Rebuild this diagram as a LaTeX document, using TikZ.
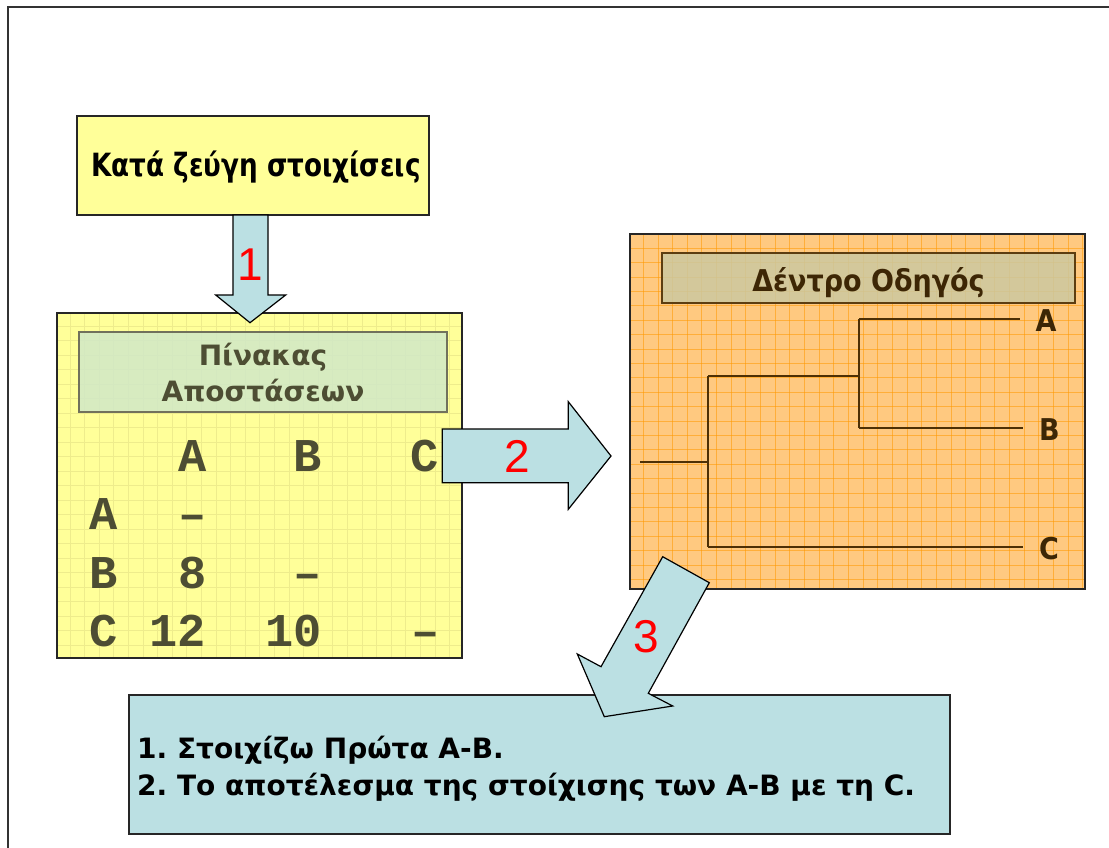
\documentclass[tikz,border=0pt]{standalone}
\usepackage{fontspec}
\setmainfont{DejaVu Sans}
\newfontfamily\uifont{DejaVu Sans}
\newfontfamily\headfont[FakeStretch=0.9]{DejaVu Sans}
\newfontfamily\narrowfont[FakeStretch=0.82]{DejaVu Sans}
\newfontfamily\monofont{Liberation Mono}
\newfontfamily\numfont{Liberation Sans}
\definecolor{paleyellow}{RGB}{255,255,153}
\definecolor{yellowgrid}{RGB}{238,236,140}
\definecolor{paleorange}{RGB}{255,201,128}
\definecolor{orangegrid}{RGB}{255,153,0}
\definecolor{paleblue}{RGB}{187,224,227}
\definecolor{greenhead}{RGB}{208,232,200}
\definecolor{khakihead}{RGB}{204,200,160}
\definecolor{olivetext}{RGB}{77,77,51}
\definecolor{browntext}{RGB}{61,38,5}
\definecolor{brownline}{RGB}{77,48,5}
\definecolor{brownedge}{RGB}{92,61,16}
\tikzset{
  panel/.style={draw=black!85, line width=1.3pt, inner sep=0pt, outer sep=0pt},
  blockarrow/.style={draw=black, line width=1.2pt, fill=paleblue, line join=miter},
  steplabel/.style={text=red, font=\numfont\fontsize{46}{46}\selectfont, inner sep=0pt},
  headbox/.style={line width=1.3pt, inner sep=0pt, outer sep=0pt},
  celltext/.style={text=olivetext, anchor=base, inner sep=0pt,
    font=\monofont\bfseries\fontsize{47}{47}\selectfont},
  leaflabel/.style={text=browntext, anchor=base, inner sep=0pt,
    font=\headfont\bfseries\fontsize{30}{30}\selectfont},
  treeline/.style={draw=brownline, line width=1.7pt}
}
\begin{document}
\begin{tikzpicture}[x=1pt,y=-1pt]
\useasboundingbox (0,0) rectangle (1109,848);
\fill[white] (0,0) rectangle (1109,848);
% page frame
\draw[line width=2pt, black!80] (8,848) -- (8,7) -- (1109,7);

% ---------- pairwise alignment box ----------
\node[panel, fill=paleyellow, minimum width=352pt, minimum height=99pt] (pair) at (253,165.5) {};
\node[anchor=base, inner sep=0pt, font=\narrowfont\bfseries\fontsize{32}{32}\selectfont] (pairtext) at (256,177) {Κατά ζεύγη στοιχίσεις};

% ---------- distance matrix ----------
\node[panel, fill=paleyellow, minimum width=405pt, minimum height=345pt] (matrix) at (259.5,485.5) {};
\begin{scope}
  \clip (57,313) rectangle (462,658);
  \foreach \i in {0,...,28} \draw[yellowgrid, line width=0.8pt] (70+\i*14.6,313) -- ++(0,345);
  \foreach \i in {0,...,24} \draw[yellowgrid, line width=0.8pt] (57,326+\i*14.5) -- ++(405,0);
\end{scope}
\draw[black!85, line width=1.3pt] (matrix.north west) rectangle (matrix.south east);
\node[headbox, draw=olivetext!80, fill=greenhead, fill opacity=0.85, text opacity=1,
  minimum width=368pt, minimum height=80pt] (mhead) at (263,372) {};
\node[anchor=base, inner sep=0pt, text=olivetext, font=\uifont\bfseries\fontsize{28}{28}\selectfont] (mhead1) at (263,365) {Πίνακας};
\node[anchor=base, inner sep=0pt, text=olivetext, font=\uifont\bfseries\fontsize{28}{28}\selectfont] (mhead2) at (263,401.5) {Αποστάσεων};
% column heads
\node[celltext] (colA) at (193,471.5) {A};
\node[celltext] (colB) at (308,471.5) {B};
\node[celltext] (colC) at (425,471.5) {C};
% row heads
\node[celltext] (rowA) at (104,529) {A};
\node[celltext] (rowB) at (104,588) {B};
\node[celltext] (rowC) at (104,646.5) {C};
% entries
\node[celltext] (aa) at (193,529) {–};
\node[celltext] (ba) at (193,588) {8};
\node[celltext] (bb) at (308,588) {–};
\node[celltext] (ca) at (177.5,646.5) {12};
\node[celltext] (cb) at (294,646.5) {10};
\node[celltext] (cc) at (426,646.5) {–};

% ---------- guide tree ----------
\node[panel, fill=paleorange, minimum width=455pt, minimum height=355pt] (tree) at (857.5,411.5) {};
\begin{scope}
  \clip (630,234) rectangle (1085,589);
  \foreach \i in {0,...,31} \draw[orangegrid, opacity=0.55, line width=0.9pt] (643.3+\i*14.65,234) -- ++(0,355);
  \foreach \i in {0,...,24} \draw[orangegrid, opacity=0.55, line width=0.9pt] (630,248.3+\i*14.4) -- ++(455,0);
\end{scope}
\draw[black!85, line width=1.3pt] (tree.north west) rectangle (tree.south east);
\node[headbox, draw=brownedge, fill=khakihead, fill opacity=0.85, text opacity=1,
  minimum width=413pt, minimum height=50pt] (thead) at (868.5,278) {};
\node[anchor=base, inner sep=0pt, text=browntext, font=\headfont\bfseries\fontsize{30}{30}\selectfont] (theadtext) at (868.5,291.5) {Δέντρο Οδηγός};
% tree topology
\coordinate (root) at (640,462);
\coordinate (n1) at (708,462);
\coordinate (n2) at (859,376);
\coordinate (leafA) at (1020,319);
\coordinate (leafB) at (1023,428);
\coordinate (leafC) at (1023,547);
\draw[treeline] (root) -- (n1);
\draw[treeline] (n1 |- n2) -- (n1 |- leafC);
\draw[treeline] (n1 |- n2) -- (n2);
\draw[treeline] (n1 |- leafC) -- (leafC);
\draw[treeline] (n2 |- leafA) -- (n2 |- leafB);
\draw[treeline] (n2 |- leafA) -- (leafA);
\draw[treeline] (n2 |- leafB) -- (leafB);
\node[leaflabel] (labA) at (1046,331) {A};
\node[leaflabel] (labB) at (1049.5,440.5) {B};
\node[leaflabel] (labC) at (1049,559) {C};

% ---------- result box ----------
\node[panel, fill=paleblue, minimum width=821pt, minimum height=139pt] (result) at (539.5,764.5) {};
\node[anchor=base west, inner sep=0pt, font=\uifont\bfseries\fontsize{28}{28}\selectfont] (res1) at (137,758.5) {1.\ Στοιχίζω Πρώτα A-B.};
\node[anchor=base west, inner sep=0pt, font=\uifont\bfseries\fontsize{28}{28}\selectfont] (res2) at (137,795) {2.\ Το αποτέλεσμα της στοίχισης των A-B με τη C.};

% ---------- block arrows ----------
\draw[blockarrow] (pair.south -| 233,0) -- (233,295) -- (215.7,295) -- (250,322.7)
  -- (285.7,295) -- (268,295) -- (pair.south -| 268,0) -- cycle;
\node[steplabel] (s1) at (250,265) {1};
\draw[blockarrow] (442.3,429) -- (568.3,429) -- (568.3,401.7) -- (611,456)
  -- (568.3,509.3) -- (568.3,482.7) -- (442.3,482.7) -- cycle;
\node[steplabel] (s2) at (517,456.5) {2};
\draw[blockarrow] (662.7,556.7) -- (709.3,582.7) -- (648.3,693.3) -- (672.7,706)
  -- (604.3,716.7) -- (577.3,654) -- (601,666.7) -- cycle;
\node[steplabel] (s3) at (646.7,636.7) {3};
\end{tikzpicture}
\end{document}
